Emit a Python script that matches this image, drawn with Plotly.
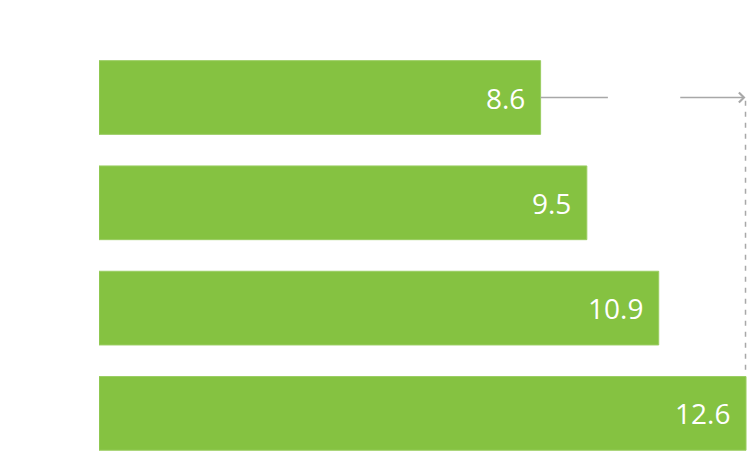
import plotly.graph_objects as go

categories = ["Item 1", "Item 2", "Item 3", "Item 4"]
values = [8.6, 9.5, 10.9, 12.6]
labels = ["8.6", "9.5", "10.9", "12.6"]

BAR = "#85C241"
GREY = "#A8A8A8"

fig = go.Figure()
fig.add_trace(go.Bar(
    y=categories, x=values, orientation="h",
    marker=dict(color=BAR, line=dict(color="#9ACD62", width=1)),
    width=0.70, hoverinfo="skip",
))

for c, v, t in zip(categories, values, labels):
    fig.add_annotation(x=v, y=c, text=t, showarrow=False, xanchor="right",
                       xshift=-14, yshift=0,
                       font=dict(family="Open Sans", size=28, color="white"))

start, end = values[0], values[-1]
mid = (start + end) / 2
gap = 0.69
# horizontal connector, first segment
fig.add_shape(type="line", xref="x", yref="y", x0=start, x1=mid - gap,
              y0=0, y1=0, line=dict(color=GREY, width=1.5))
# second segment with arrow
fig.add_annotation(x=end - 0.01, y=0, ax=mid + gap, ay=0, axref="x", ayref="y",
                   xref="x", yref="y", text="", showarrow=True,
                   arrowhead=4, arrowsize=1.3, arrowwidth=1.5, arrowcolor=GREY,
                   standoff=0)
# dashed vertical
fig.add_shape(type="line", xref="x", yref="y", x0=end - 0.01, x1=end - 0.01,
              y0=0.03, y1=2.6, line=dict(color=GREY, width=1.5, dash="5px,6px"))

fig.update_layout(
    width=751, height=453,
    margin=dict(l=99, r=0, t=0, b=0, autoexpand=False),
    paper_bgcolor="white", plot_bgcolor="white",
    showlegend=False,
    xaxis=dict(range=[0, 12.697], visible=False, fixedrange=True),
    yaxis=dict(range=[3.376, -0.926], visible=False, fixedrange=True,
               categoryorder="array", categoryarray=categories),
)

fig.write_html(
    "out.html",
    config={"displayModeBar": False, "staticPlot": True},
    post_script="document.body.style.margin='0';document.body.style.overflow='hidden';",
)
